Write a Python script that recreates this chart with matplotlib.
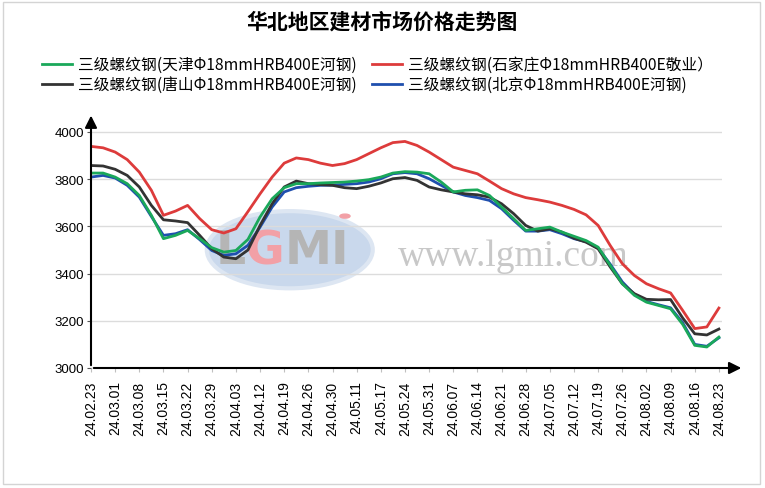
import numpy as np
import matplotlib
matplotlib.use('Agg')
import matplotlib.pyplot as plt
from matplotlib.patches import Ellipse, Rectangle, Circle

plt.rcParams['font.family'] = ['Noto Sans CJK SC', 'DejaVu Sans']

# ----------------------------- 数据 -----------------------------
date_labels = ['24.02.23', '24.03.01', '24.03.08', '24.03.15', '24.03.22', '24.03.29',
               '24.04.03', '24.04.12', '24.04.19', '24.04.26', '24.04.30', '24.05.11',
               '24.05.17', '24.05.24', '24.05.31', '24.06.07', '24.06.14', '24.06.21',
               '24.06.28', '24.07.05', '24.07.12', '24.07.19', '24.07.26', '24.08.02',
               '24.08.09', '24.08.16', '24.08.23']

# 半周采样 (0, 0.5, 1, ... 26)
tianjin = [3826, 3826, 3809, 3781, 3731, 3647, 3548, 3562, 3583, 3548, 3510, 3491, 3498,
           3545, 3640, 3717, 3764, 3781, 3781, 3784, 3786, 3788, 3792, 3798, 3809, 3826,
           3832, 3830, 3823, 3788, 3746, 3753, 3755, 3731, 3682, 3633, 3583, 3590, 3597,
           3576, 3558, 3540, 3512, 3435, 3357, 3308, 3279, 3265, 3251, 3185, 3096, 3089, 3131]
shijiazhuang = [3939, 3933, 3915, 3883, 3830, 3753, 3647, 3665, 3689, 3633, 3586, 3572, 3590,
                3663, 3738, 3809, 3868, 3890, 3883, 3868, 3858, 3866, 3883, 3908, 3933, 3955,
                3960, 3943, 3915, 3883, 3851, 3837, 3823, 3792, 3760, 3738, 3722, 3713, 3703,
                3689, 3672, 3649, 3604, 3519, 3442, 3392, 3357, 3336, 3318, 3244, 3167, 3174, 3254]
tangshan = [3858, 3856, 3842, 3816, 3767, 3689, 3628, 3623, 3616, 3562, 3505, 3470, 3463,
            3500, 3604, 3696, 3767, 3792, 3781, 3777, 3774, 3764, 3760, 3770, 3784, 3802,
            3807, 3795, 3767, 3755, 3746, 3738, 3734, 3724, 3696, 3654, 3604, 3580, 3590,
            3576, 3550, 3533, 3505, 3428, 3357, 3315, 3291, 3289, 3290, 3212, 3145, 3140, 3165]
beijing = [3809, 3816, 3805, 3774, 3724, 3642, 3562, 3569, 3586, 3544, 3498, 3477, 3484,
           3520, 3597, 3682, 3746, 3764, 3770, 3774, 3775, 3778, 3781, 3788, 3802, 3823,
           3828, 3823, 3802, 3774, 3746, 3731, 3722, 3710, 3675, 3626, 3580, 3580, 3586,
           3569, 3548, 3535, 3508, 3440, 3365, 3312, 3282, 3268, 3255, 3192, 3100, 3092, 3128]

names = ['三级螺纹钢(天津Φ18mmHRB400E河钢)', '三级螺纹钢(石家庄Φ18mmHRB400E敬业）',
         '三级螺纹钢(唐山Φ18mmHRB400E河钢)', '三级螺纹钢(北京Φ18mmHRB400E河钢)']
y_ticks = [3000, 3200, 3400, 3600, 3800, 4000]

x = np.arange(len(tianjin)) / 2.0

# ----------------------------- 绘图 -----------------------------
fig = plt.figure(figsize=(7.65, 4.89), dpi=100)
fig.patches.append(Rectangle((0.004, 0.008), 0.99, 0.986, transform=fig.transFigure,
                             fill=False, edgecolor='#d4d4d4', lw=1))

ax = fig.add_axes([91/765, 1 - 369/489, 631/765, 249/489])
ax.set_xlim(0, 631/24.15)
ax.set_ylim(3000, 3000 + 249/0.236)

# 水印
ax.add_patch(Ellipse((0.315, 0.475), 0.263, 0.31, transform=ax.transAxes,
                     facecolor='#c9d8ec', edgecolor='#dde6f2', lw=3, zorder=0.5))
wm = dict(transform=ax.transAxes, fontsize=34, fontweight='bold', family='DejaVu Sans',
          va='center', zorder=0.6)
ax.text(0.222, 0.47, 'L', color='#b5b5b5', ha='center', **wm)
ax.text(0.276, 0.47, 'G', color='#f2a0a6', ha='center', **wm)
ax.text(0.358, 0.47, 'MI', color='#b5b5b5', ha='center', **wm)
ax.add_patch(Circle((0.4025, 0.61), 0.008, transform=ax.transAxes, color='#f2a0a6', zorder=0.6))
ax.text(0.67, 0.45, 'www.lgmi.com', transform=ax.transAxes, fontsize=27,
        family='Liberation Serif', color='#c8c8c8', ha='center', va='center', zorder=0.6)

ax.plot(x, beijing, color='#1f4fae', lw=2, label=names[3], zorder=2)
ax.plot(x, tangshan, color='#333333', lw=2, label=names[2], zorder=2)
ax.plot(x, shijiazhuang, color='#dd3b3b', lw=2, label=names[1], zorder=2)
ax.plot(x, tianjin, color='#1aa85a', lw=2, label=names[0], zorder=2)

ax.set_yticks(y_ticks)
ax.set_yticklabels([str(v) for v in y_ticks], family='Liberation Sans', fontsize=9.5)
ax.set_xticks(np.arange(len(date_labels)))
ax.set_xticklabels(date_labels, rotation=90, family='Liberation Sans', fontsize=10)
ax.tick_params(axis='x', length=3, color='#c0c0c0', pad=6)
ax.tick_params(axis='y', length=3, color='#555555', pad=2)
ax.grid(axis='y', color='#dcdcdc', lw=1)
ax.set_axisbelow(True)
for s in ax.spines.values():
    s.set_visible(False)

# 带箭头的坐标轴
ax.annotate('', xy=(1.035, 0), xytext=(0, 0), xycoords='axes fraction',
            arrowprops=dict(arrowstyle='-|>', color='black', lw=1.5, mutation_scale=18),
            annotation_clip=False)
ax.annotate('', xy=(0, 1.025), xytext=(0, 0), xycoords='axes fraction',
            arrowprops=dict(arrowstyle='-|>', color='black', lw=1.5, mutation_scale=18),
            annotation_clip=False)

fig.text(0.5, 1 - 22/489, '华北地区建材市场价格走势图', ha='center', va='center',
         fontsize=15, fontweight='bold')

lines = ax.get_lines()
order = [3, 1, 2, 0]  # 天津, 唐山, 石家庄, 北京
handles = [lines[i] for i in order]
fig.legend(handles, [h.get_label() for h in handles], ncol=2, frameon=False,
           loc='upper left', bbox_to_anchor=(42/765, 1 - 57/489), fontsize=11.3,
           handlelength=1.9, handletextpad=0.4, columnspacing=0.95, labelspacing=0.2,
           borderpad=0, borderaxespad=0)

fig.savefig('out.png', dpi=100)
